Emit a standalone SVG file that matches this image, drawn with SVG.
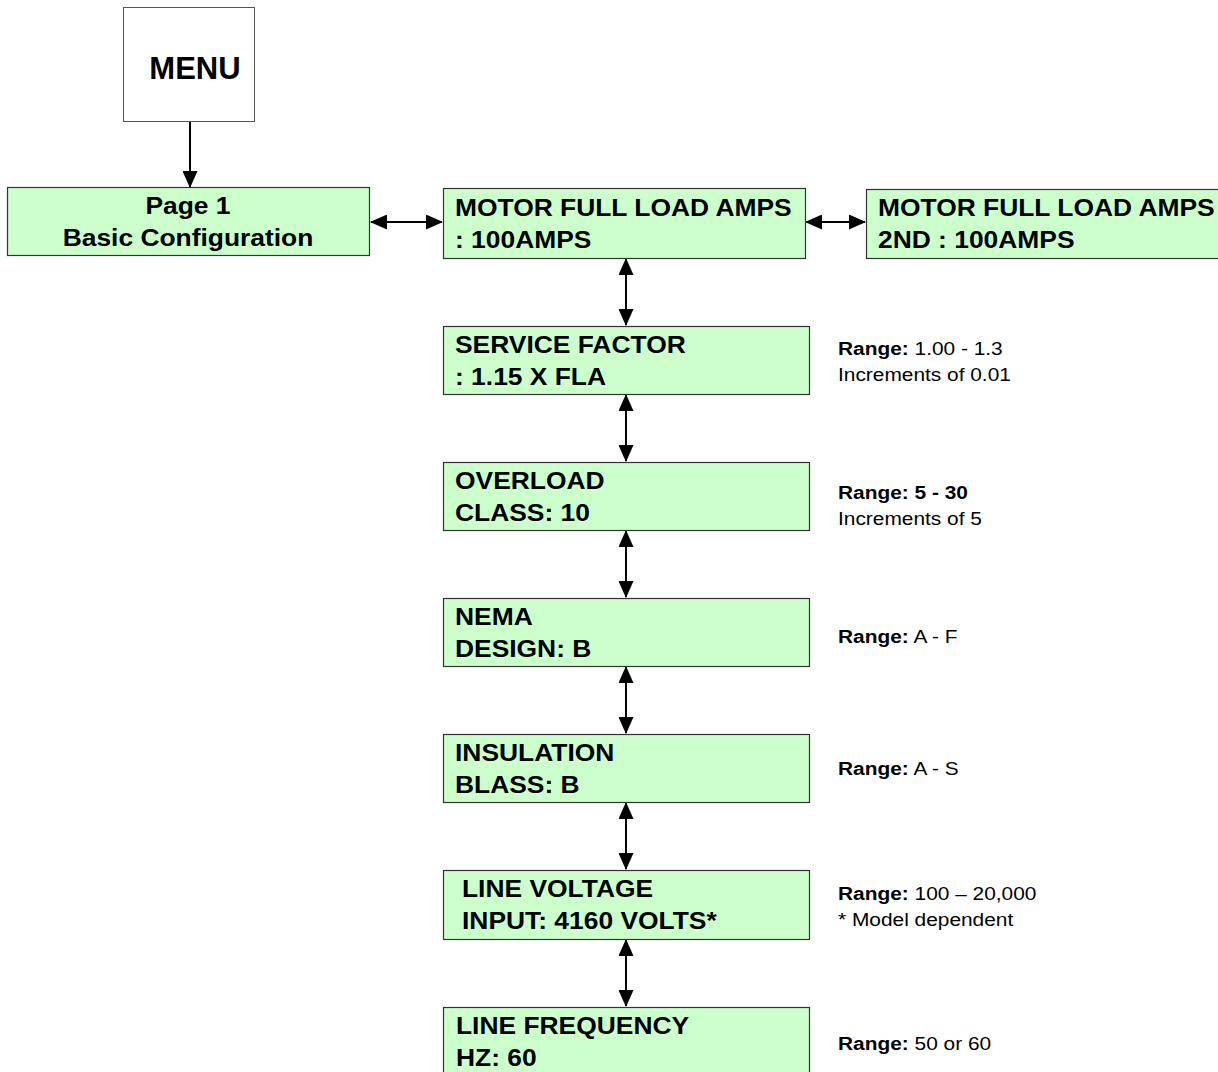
<svg xmlns="http://www.w3.org/2000/svg" width="1218" height="1072" viewBox="0 0 1218 1072">
<style>
.box{fill:#CCFFCC;stroke:#333333;stroke-width:1.2}
.menu{fill:#FFFFFF;stroke:#555555;stroke-width:1}
.t{font-family:"Liberation Sans",Arial,sans-serif;font-weight:bold;font-size:24px;fill:#000}
.r{font-family:"Liberation Sans",Arial,sans-serif;font-size:18px;fill:#000}
.b{font-weight:bold}
.c{stroke:#000;stroke-width:2;fill:none}
</style>
<defs>
<marker id="ah" markerUnits="userSpaceOnUse" markerWidth="17" markerHeight="15" refX="16" refY="7.5" orient="auto-start-reverse" viewBox="0 0 17 15">
<path d="M0,0 L17,7.5 L0,15 Z" fill="#000"/>
</marker>
</defs>
<rect width="1218" height="1072" fill="#FFFFFF"/>
<g id="connectors">
<line class="c" x1="190" y1="121" x2="190" y2="187" marker-end="url(#ah)"/>
<line class="c" x1="371" y1="222" x2="442" y2="222" marker-start="url(#ah)" marker-end="url(#ah)"/>
<line class="c" x1="806" y1="222" x2="865" y2="222" marker-start="url(#ah)" marker-end="url(#ah)"/>
<line class="c" x1="626" y1="259" x2="626" y2="325" marker-start="url(#ah)" marker-end="url(#ah)"/>
<line class="c" x1="626" y1="395" x2="626" y2="461" marker-start="url(#ah)" marker-end="url(#ah)"/>
<line class="c" x1="626" y1="531" x2="626" y2="597" marker-start="url(#ah)" marker-end="url(#ah)"/>
<line class="c" x1="626" y1="667" x2="626" y2="733" marker-start="url(#ah)" marker-end="url(#ah)"/>
<line class="c" x1="626" y1="803" x2="626" y2="869" marker-start="url(#ah)" marker-end="url(#ah)"/>
<line class="c" x1="626" y1="940" x2="626" y2="1006" marker-start="url(#ah)" marker-end="url(#ah)"/>
</g>
<g id="menu">
<rect class="menu" x="123.5" y="7.5" width="131" height="114"/>
<text x="195" y="79" text-anchor="middle" font-family="Liberation Sans,Arial,sans-serif" font-weight="bold" font-size="31">MENU</text>
</g>
<g id="page1">
<rect class="box" x="7.5" y="187.5" width="362" height="68"/>
<text class="t" text-anchor="middle" transform="translate(188,214) scale(1.1,1)">Page 1</text>
<text class="t" text-anchor="middle" transform="translate(188,246) scale(1.1,1)">Basic Configuration</text>
</g>
<g id="mfla">
<rect class="box" x="443.5" y="188.5" width="362" height="70"/>
<text class="t" transform="translate(455,216) scale(1.1,1)">MOTOR FULL LOAD AMPS</text>
<text class="t" transform="translate(455,248) scale(1.1,1)">: 100AMPS</text>
</g>
<g id="mfla2">
<rect class="box" x="866.5" y="189.5" width="370" height="69"/>
<text class="t" transform="translate(878,216) scale(1.1,1)">MOTOR FULL LOAD AMPS</text>
<text class="t" transform="translate(878,248) scale(1.1,1)">2ND : 100AMPS</text>
</g>
<g id="sf">
<rect class="box" x="443.5" y="326.5" width="366" height="68"/>
<text class="t" transform="translate(455,353) scale(1.1,1)">SERVICE FACTOR</text>
<text class="t" transform="translate(455,385) scale(1.1,1)">: 1.15 X FLA</text>
</g>
<g id="ol">
<rect class="box" x="443.5" y="462.5" width="366" height="68"/>
<text class="t" transform="translate(455,489) scale(1.1,1)">OVERLOAD</text>
<text class="t" transform="translate(455,521) scale(1.1,1)">CLASS: 10</text>
</g>
<g id="nema">
<rect class="box" x="443.5" y="598.5" width="366" height="68"/>
<text class="t" transform="translate(455,625) scale(1.1,1)">NEMA</text>
<text class="t" transform="translate(455,657) scale(1.1,1)">DESIGN: B</text>
</g>
<g id="ins">
<rect class="box" x="443.5" y="734.5" width="366" height="68"/>
<text class="t" transform="translate(455,761) scale(1.1,1)">INSULATION</text>
<text class="t" transform="translate(455,793) scale(1.1,1)">BLASS: B</text>
</g>
<g id="lv">
<rect class="box" x="443.5" y="870.5" width="366" height="69"/>
<text class="t" transform="translate(462,897) scale(1.1,1)">LINE VOLTAGE</text>
<text class="t" transform="translate(462,929) scale(1.1,1)">INPUT: 4160 VOLTS*</text>
</g>
<g id="lf">
<rect class="box" x="443.5" y="1007.5" width="366" height="80"/>
<text class="t" transform="translate(456,1034) scale(1.1,1)">LINE FREQUENCY</text>
<text class="t" transform="translate(456,1066) scale(1.1,1)">HZ: 60</text>
</g>
<g id="notes">
<text class="r" transform="translate(838,355) scale(1.16,1)"><tspan class="b">Range:</tspan> 1.00 - 1.3</text>
<text class="r" transform="translate(838,381) scale(1.16,1)">Increments of 0.01</text>
<text class="r b" transform="translate(838,499) scale(1.16,1)">Range: 5 - 30</text>
<text class="r" transform="translate(838,525) scale(1.16,1)">Increments of 5</text>
<text class="r" transform="translate(838,643) scale(1.16,1)"><tspan class="b">Range:</tspan> A - F</text>
<text class="r" transform="translate(838,775) scale(1.16,1)"><tspan class="b">Range:</tspan> A - S</text>
<text class="r" transform="translate(838,900) scale(1.16,1)"><tspan class="b">Range:</tspan> 100 – 20,000</text>
<text class="r" transform="translate(838,926) scale(1.16,1)">* Model dependent</text>
<text class="r" transform="translate(838,1050) scale(1.16,1)"><tspan class="b">Range:</tspan> 50 or 60</text>
</g>
</svg>
